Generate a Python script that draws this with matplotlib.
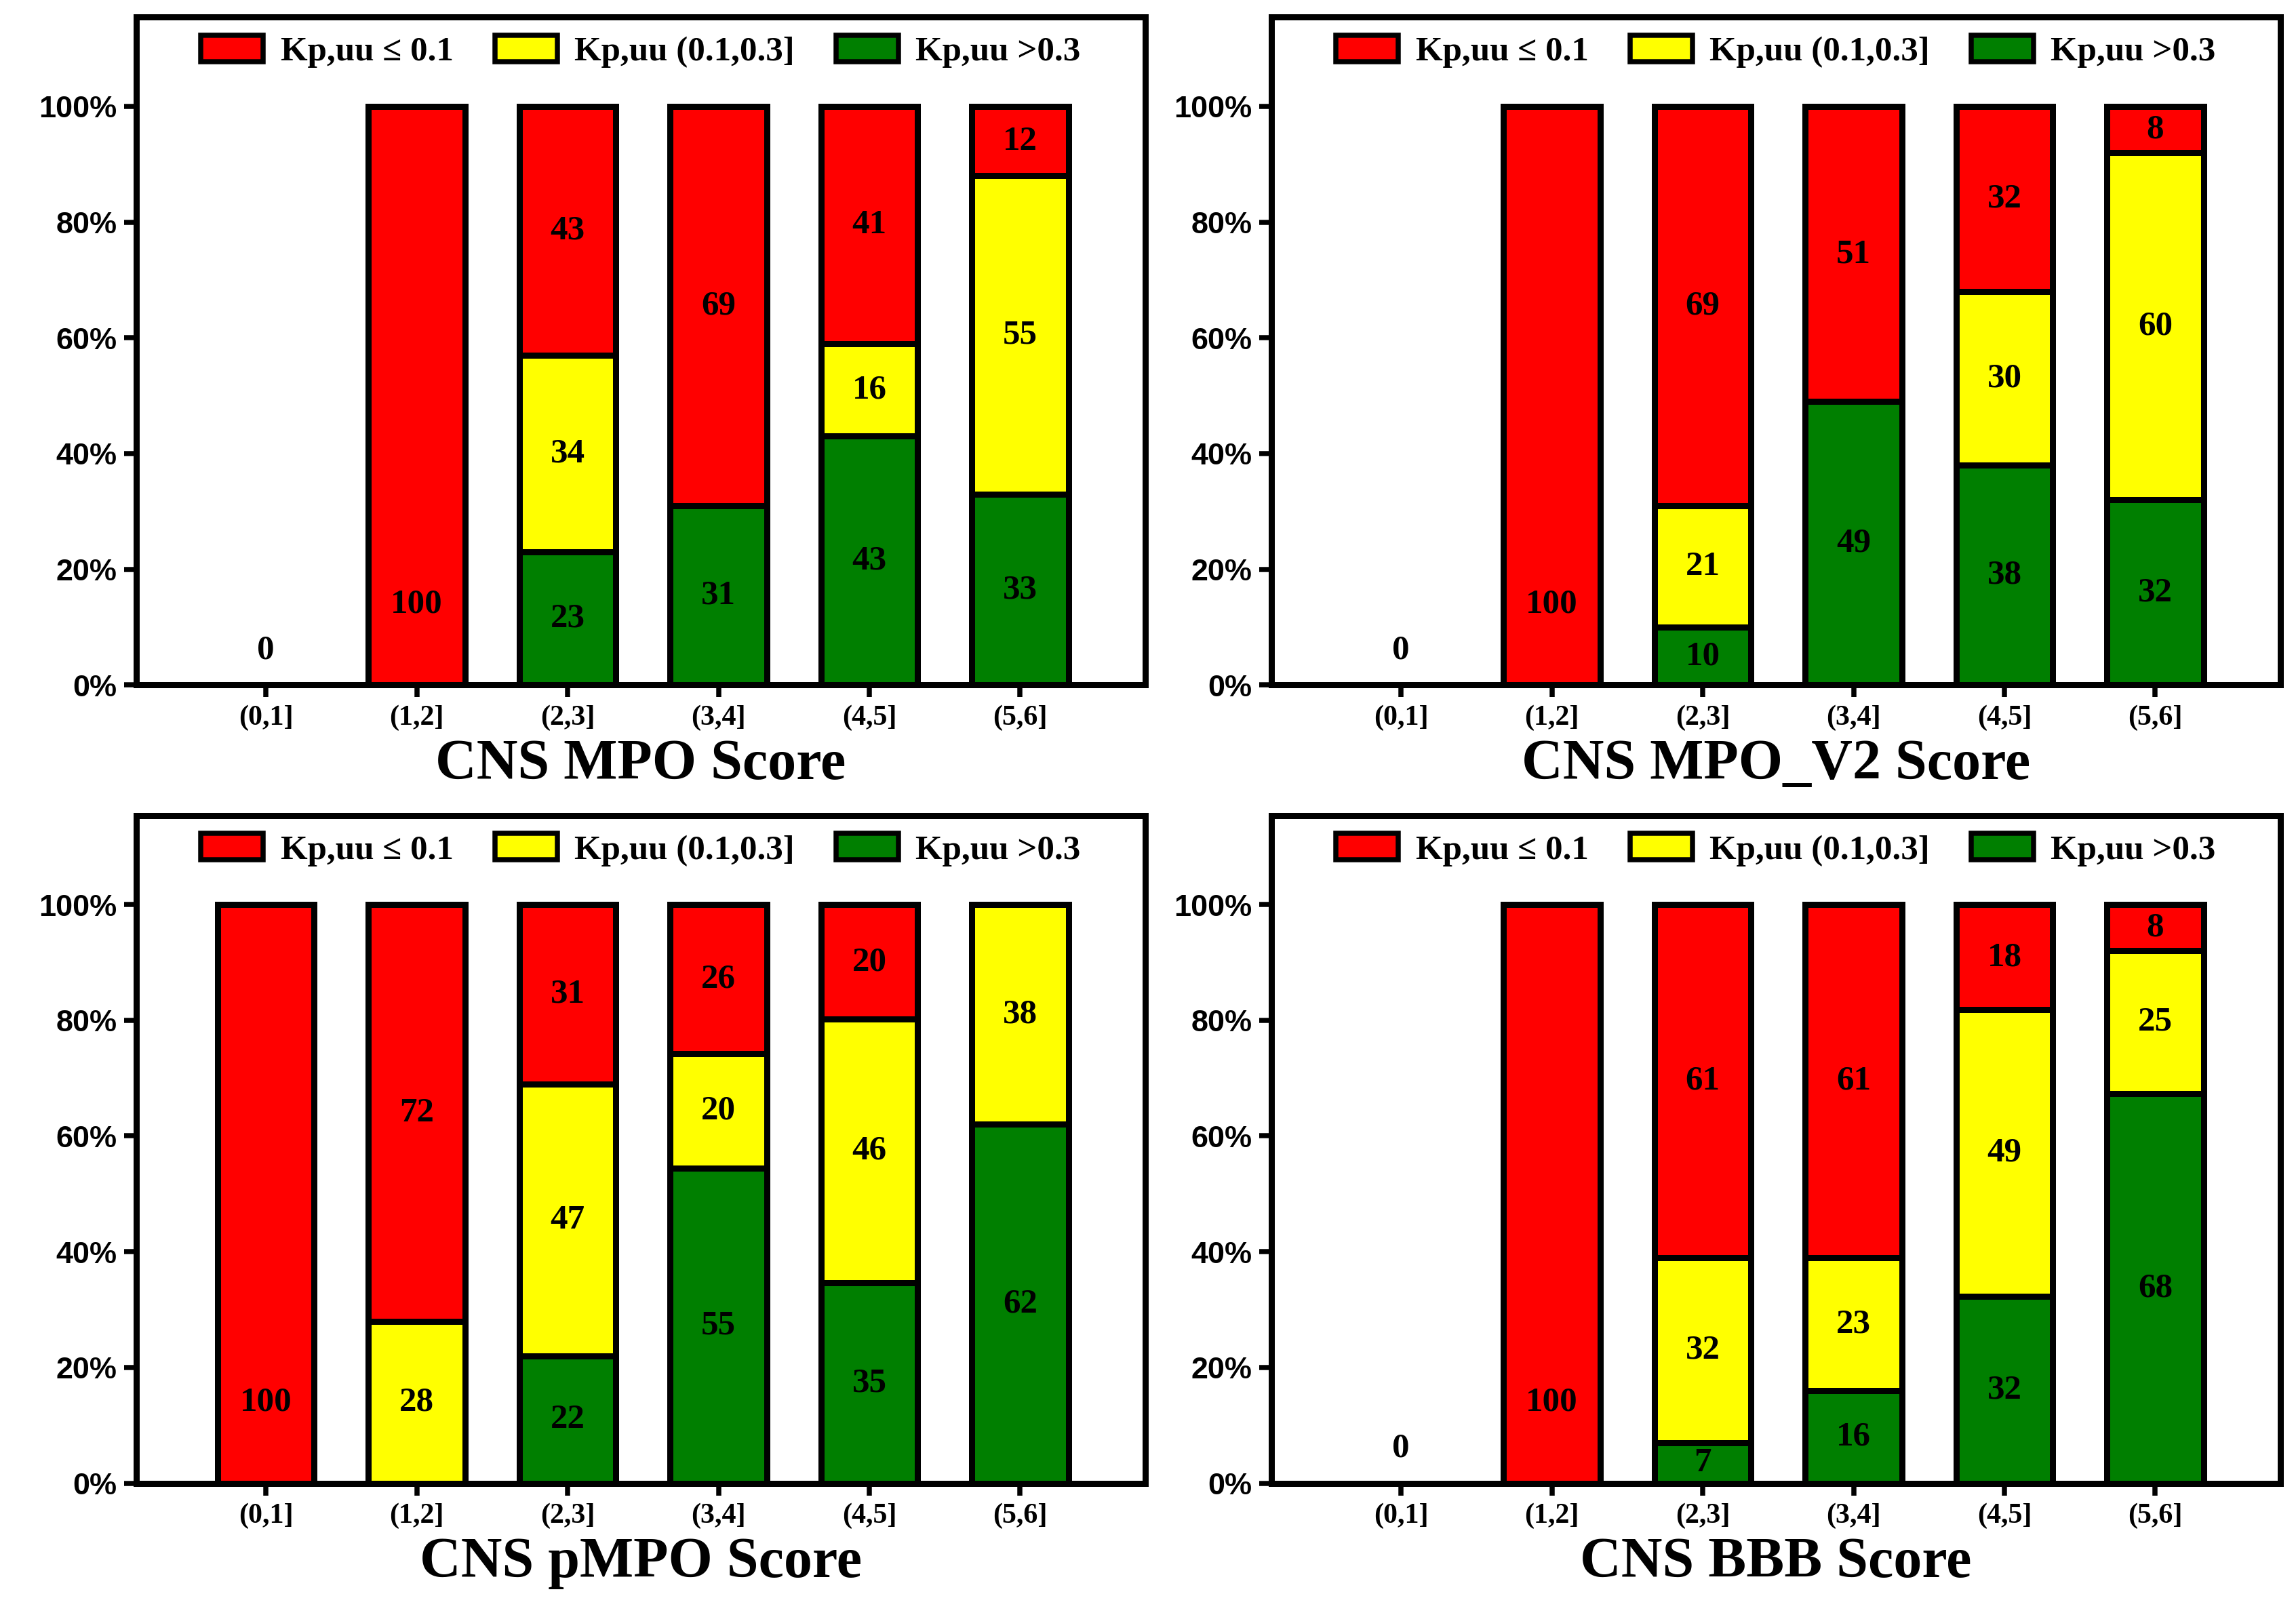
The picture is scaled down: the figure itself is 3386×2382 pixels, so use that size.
import matplotlib
matplotlib.use("Agg")
import matplotlib.pyplot as plt
from matplotlib.patches import Patch
import numpy as np

categories = ["(0,1]", "(1,2]", "(2,3]", "(3,4]", "(4,5]", "(5,6]"]
titles = ["CNS MPO Score", "CNS MPO_V2 Score", "CNS pMPO Score", "CNS BBB Score"]
green = [[0, 0, 23, 31, 43, 33], [0, 0, 10, 49, 38, 32], [0, 0, 22, 55, 35, 62], [0, 0, 7, 16, 32, 68]]
yellow = [[0, 0, 34, 0, 16, 55], [0, 0, 21, 0, 30, 60], [0, 28, 47, 20, 46, 38], [0, 0, 32, 23, 49, 25]]
red = [[0, 100, 43, 69, 41, 12], [0, 100, 69, 51, 32, 8], [100, 72, 31, 26, 20, 0], [0, 100, 61, 61, 18, 8]]
legend_labels = ["Kp,uu \u2264 0.1", "Kp,uu (0.1,0.3]", "Kp,uu >0.3"]
cols = {"r": "#FF0000", "y": "#FFFF00", "g": "#007F00"}

fig = plt.figure(figsize=(15.68, 11.03), dpi=216)
positions = [(93, 12), (868, 12), (93, 557), (868, 557)]
W, H = 1568, 1103
serif = "Liberation Serif"
sans = "Liberation Sans"
for k in range(4):
    x0, y0 = positions[k]
    ax = fig.add_axes([x0 / W, 1 - (y0 + 456) / H, 689 / W, 456 / H])
    g = np.array(green[k]); y = np.array(yellow[k]); r = np.array(red[k])
    x = np.arange(6)
    tot = g + y + r
    gf = np.where(tot > 0, g / np.maximum(tot, 1), 0)
    yf = np.where(tot > 0, y / np.maximum(tot, 1), 0)
    rf = np.where(tot > 0, r / np.maximum(tot, 1), 0)
    kw = dict(width=0.64, edgecolor="black", linewidth=3)
    ax.bar(x, gf, color=cols["g"], **kw)
    ax.bar(x, yf, bottom=gf, color=cols["y"], **kw)
    ax.bar(x, rf, bottom=gf + yf, color=cols["r"], **kw)
    tk = dict(ha="center", va="center", fontfamily=serif, fontweight="bold", fontsize=17)
    for i in range(6):
        if tot[i] == 0:
            ax.text(i, 0.06, "0", **tk)
            continue
        for val, frac, bot in [(g[i], gf[i], 0), (y[i], yf[i], gf[i]), (r[i], rf[i], gf[i] + yf[i])]:
            if val <= 0:
                continue
            if frac >= 0.999:
                ax.text(i, 0.14, str(val), **tk)
            else:
                ax.text(i, bot + frac / 2, str(val), **tk)
    ax.set_xlim(-0.86, 5.83)
    ax.set_ylim(0, 1.154)
    ax.set_yticks(np.arange(0, 1.01, 0.2))
    ax.set_yticklabels([f"{int(v*100)}%" for v in np.arange(0, 1.01, 0.2)], fontfamily=sans, fontweight="bold", fontsize=15)
    ax.set_xticks(x)
    ax.set_xticklabels(categories, fontfamily=serif, fontweight="bold", fontsize=14)
    for s in ax.spines.values():
        s.set_linewidth(3)
    ax.tick_params(width=2.5, length=6)
    ax.set_xlabel(titles[k], fontfamily=serif, fontweight="bold", fontsize=28, labelpad=4)
    handles = [Patch(facecolor=cols[c], edgecolor="black", linewidth=2.5) for c in "ryg"]
    ax.legend(handles, legend_labels, loc="upper center", ncol=3, frameon=False,
              prop={"family": serif, "weight": "bold", "size": 17}, handlelength=1.8,
              handleheight=0.8, columnspacing=1.2, handletextpad=0.5,
              bbox_to_anchor=(0.5, 1.02))
fig.savefig("out.png", dpi=216)
